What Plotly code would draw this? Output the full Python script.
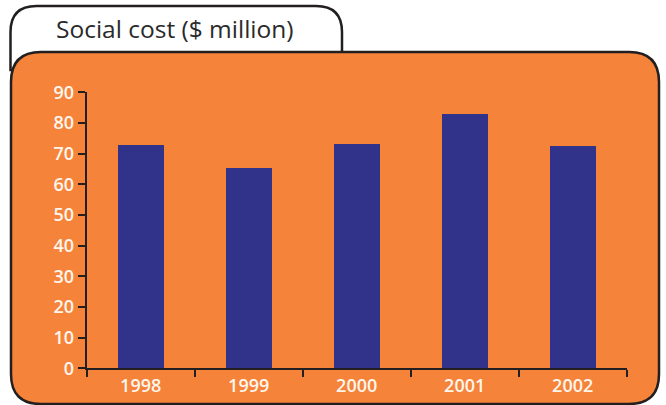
import plotly.graph_objects as go

years = ["1998", "1999", "2000", "2001", "2002"]
social_cost = [72.7, 65.2, 73.0, 82.8, 72.4]
y_ticks = [0, 10, 20, 30, 40, 50, 60, 70, 80, 90]

W, H = 666, 405
ORANGE = "#F5833A"
NAVY = "#31328A"
DARK = "#231F20"
LABEL = "#FEF6EC"


def px(x, y):
    return f"{x / W:.5f},{1 - y / H:.5f}"


def rounded_path(x0, y0, x1, y1, r, bottom_round=True):
    p = f"M {px(x0, y1 if not bottom_round else y1 - r)} "
    p += f"L {px(x0, y0 + r)} Q {px(x0, y0)} {px(x0 + r, y0)} "
    p += f"L {px(x1 - r, y0)} Q {px(x1, y0)} {px(x1, y0 + r)} "
    if bottom_round:
        p += f"L {px(x1, y1 - r)} Q {px(x1, y1)} {px(x1 - r, y1)} "
        p += f"L {px(x0 + r, y1)} Q {px(x0, y1)} {px(x0, y1 - r)} Z"
    else:
        p += f"L {px(x1, y1)} L {px(x0, y1)} Z"
    return p


fig = go.Figure(
    go.Bar(x=years, y=social_cost, marker=dict(color=NAVY, line=dict(width=0)), width=0.423)
)

shapes = [
    dict(type="path", xref="paper", yref="paper", path=rounded_path(10.5, 6, 342, 70, 26, bottom_round=False),
         fillcolor="white", line=dict(color=DARK, width=2.5), layer="below"),
    dict(type="path", xref="paper", yref="paper", path=rounded_path(11, 52, 659, 404, 30),
         fillcolor=ORANGE, line=dict(color=DARK, width=2.5), layer="below"),
]

tick_font = dict(family="Open Sans", size=18, color=LABEL, weight=600)

fig.update_layout(
    template="none",
    width=W, height=H,
    autosize=False,
    margin=dict(l=0, r=0, t=0, b=0, pad=0),
    paper_bgcolor="white",
    plot_bgcolor="rgba(0,0,0,0)",
    shapes=shapes,
    showlegend=False,
    bargap=0,
    annotations=[dict(text="Social cost ($ million)", xref="paper", yref="paper",
                      x=174.5 / W, y=1 - 28.5 / H, xanchor="center", yanchor="middle",
                      showarrow=False,
                      font=dict(family="Open Sans", size=24.5, color="#2a2a2a"))],
    xaxis=dict(domain=[86.7 / W, 626.7 / W], type="category", showline=True, automargin=False,
               linecolor=DARK, linewidth=2, ticks="outside", tickson="boundaries",
               ticklen=7, tickwidth=2, tickcolor=DARK, showgrid=False, zeroline=False,
               tickfont=tick_font),
    yaxis=dict(domain=[1 - 368.3 / H, 1 - 92.3 / H], range=[0, 90], tickvals=y_ticks,
               automargin=False,
               showline=True, linecolor=DARK, linewidth=2, ticks="outside", ticklen=7,
               tickwidth=2, tickcolor=DARK, showgrid=False, zeroline=False,
               tickfont=tick_font),
)

fig.write_html("out.html")
